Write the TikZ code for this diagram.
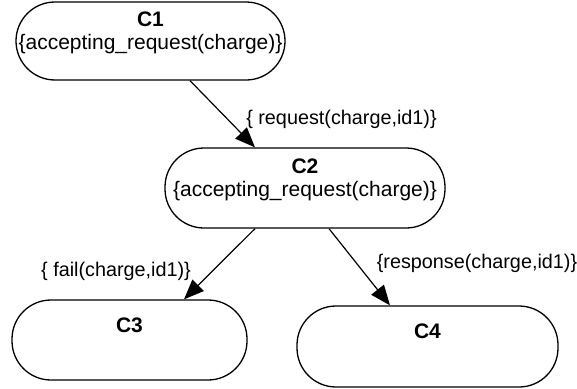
\documentclass[tikz,border=0pt]{standalone}
\usepackage{fontspec}
\setmainfont{Liberation Sans}
\usetikzlibrary{arrows.meta,calc}
\begin{document}
\begin{tikzpicture}[x=1pt,y=1pt,
  statebox/.style={draw, line width=1.3pt, rounded corners=39pt, align=center,
    inner sep=0pt, font=\fontsize{21}{23.5}\selectfont},
  edgelabel/.style={inner sep=0pt, font=\fontsize{19.8}{22}\selectfont},
  trans/.style={line width=1.2pt, -{Triangle[length=20pt,width=16pt]}}]
\useasboundingbox (0,0) rectangle (577,-388);
\node[statebox, minimum width=269pt, minimum height=78pt] (c1) at (150.5,-41)
  {\textbf{C1}\\\{accepting\_request(charge)\}\\[-10pt]\strut};
\node[statebox, minimum width=280pt, minimum height=80pt] (c2) at (305,-188)
  {\textbf{C2}\\\{accepting\_request(charge)\}\\[-10pt]\strut};
\node[statebox, minimum width=235pt, minimum height=80pt] (c3) at (129.5,-340)
  {\textbf{C3}\\\strut};
\node[statebox, minimum width=261pt, minimum height=81pt] (c4) at (427.5,-346.5)
  {\textbf{C4}\\\strut};
\draw[trans] ($(c1.south)+(39.5,0)$) -- ($(c2.north)+(-50,0)$);
\draw[trans] ($(c2.south)+(-50,0)$) -- ($(c3.north)+(54.5,0)$);
\draw[trans] ($(c2.south)+(24,0)$) -- ($(c4.north)+(-37.5,0)$);
\node[edgelabel] (l1) at (341.5,-119) {\{ request(charge,id1)\}};
\node[edgelabel] (l2) at (116,-271) {\{ fail(charge,id1)\}};
\node[edgelabel] (l3) at (477,-263) {\{response(charge,id1)\}};
\end{tikzpicture}
\end{document}
